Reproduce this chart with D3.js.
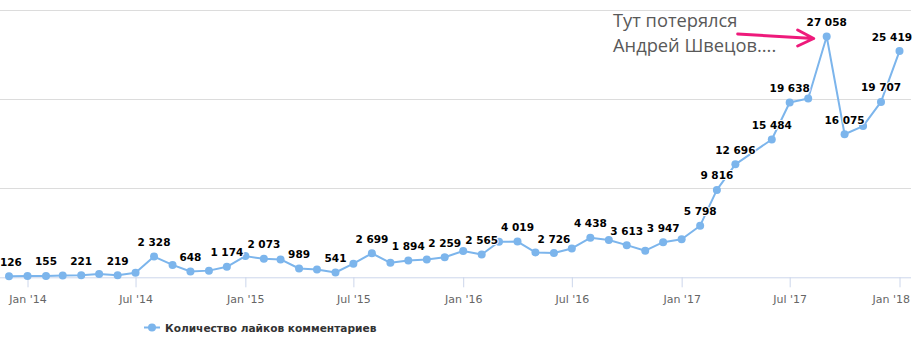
<!DOCTYPE html>
<html>
<head>
<meta charset="utf-8">
<script src="https://cdn.jsdelivr.net/npm/d3@7/dist/d3.min.js"></script>
<style>
  html, body { margin: 0; padding: 0; background: #fff; }
  svg { display: block; }
</style>
</head>
<body>
<svg id="chart" width="919" height="344"></svg>
<script>
// Monthly likes on comments (May 2017 has no record)
const months = [
  "2013-12",
  "2014-01","2014-02","2014-03","2014-04","2014-05","2014-06",
  "2014-07","2014-08","2014-09","2014-10","2014-11","2014-12",
  "2015-01","2015-02","2015-03","2015-04","2015-05","2015-06",
  "2015-07","2015-08","2015-09","2015-10","2015-11","2015-12",
  "2016-01","2016-02","2016-03","2016-04","2016-05","2016-06",
  "2016-07","2016-08","2016-09","2016-10","2016-11","2016-12",
  "2017-01","2017-02","2017-03","2017-04","2017-06",
  "2017-07","2017-08","2017-09","2017-10","2017-11","2017-12",
  "2018-01"
];
const likes = [
  126,
  160, 155, 200, 221, 370, 219,
  520, 2328, 1390, 648, 750, 1174,
  2380, 2073, 2010, 989, 880, 541,
  1530, 2699, 1630, 1894, 2000, 2259,
  2950, 2565, 3990, 4019, 2800, 2726,
  3240, 4438, 4190, 3613, 2990, 3947,
  4270, 5798, 9816, 12696, 15484,
  19638, 20090, 27058, 16075, 16990, 19707,
  25419
];
const tickMonths = ["2014-01","2014-07","2015-01","2015-07","2016-01","2016-07","2017-01","2017-07","2018-01"];
const tickLabels = ["Jan '14","Jul '14","Jan '15","Jul '15","Jan '16","Jul '16","Jan '17","Jul '17","Jan '18"];
const gridValues = [10000, 20000, 30000];
const seriesName = "Количество лайков комментариев";
const noteLines = ["Тут потерялся", "Андрей Швецов...."];

const parseMonth = d3.utcParse("%Y-%m");
const data = months.map((m, i) => ({ date: parseMonth(m), value: likes[i] }));

const svg = d3.select("#chart");
const plotLeft = 0, plotRight = 911, plotTop = 10.3, plotBottom = 277.3;
const color = "#7cb5ec";

const x = d3.scaleUtc()
  .domain(d3.extent(data, d => d.date))
  .range([9, 899.5]);
const y = d3.scaleLinear()
  .domain([0, 30000])
  .range([plotBottom, plotTop]);

const fmt = d3.formatLocale({ decimal: ",", thousands: " ", grouping: [3], currency: ["", ""] }).format(",d");

// horizontal grid lines
const grid = svg.append("g")
  .call(d3.axisRight(y).tickValues(gridValues).tickSize(plotRight - plotLeft).tickFormat(""))
  .attr("transform", `translate(${plotLeft},0)`);
grid.select(".domain").remove();
grid.selectAll(".tick line").attr("stroke", "#dcdcdc").attr("shape-rendering", "crispEdges");

// x axis
const xAxis = svg.append("g")
  .attr("transform", `translate(0,${plotBottom})`)
  .call(d3.axisBottom(x)
    .tickValues(tickMonths.map(parseMonth))
    .tickFormat((d, i) => tickLabels[i])
    .tickSize(10)
    .tickPadding(8));
xAxis.select(".domain")
  .attr("d", `M${plotLeft},0.5H${plotRight}`)
  .attr("stroke", "#ccd6eb");
xAxis.selectAll(".tick line").attr("stroke", "#ccd6eb");
xAxis.selectAll(".tick text")
  .attr("fill", "#666")
  .style("font", "11px 'DejaVu Sans', sans-serif")
  .attr("dy", "0.71em")
  .each(function () {
    // keep end labels inside the chart
    const b = this.getBBox();
    const tx = +this.parentNode.getAttribute("transform").match(/translate\(([^,]+)/)[1];
    if (tx + b.x + b.width > 910) d3.select(this).attr("x", 910 - (tx + b.x + b.width));
  });

// series line + markers
svg.append("path")
  .datum(data)
  .attr("fill", "none")
  .attr("stroke", color)
  .attr("stroke-width", 2)
  .attr("stroke-linejoin", "round")
  .attr("d", d3.line().x(d => x(d.date)).y(d => y(d.value)));

svg.append("g").selectAll("circle")
  .data(data)
  .join("circle")
  .attr("cx", d => x(d.date))
  .attr("cy", d => y(d.value))
  .attr("r", 4)
  .attr("fill", color);

// data labels, hiding those that collide with an already placed label
const labelLayer = svg.append("g");
const placed = [];
data.forEach(d => {
  const t = labelLayer.append("text")
    .attr("x", x(d.date))
    .attr("y", y(d.value) - 10.5)
    .attr("text-anchor", "middle")
    .attr("fill", "#000")
    .attr("stroke", "#fff")
    .attr("stroke-width", 2)
    .attr("stroke-linejoin", "round")
    .attr("paint-order", "stroke")
    .style("font", "bold 10.5px 'DejaVu Sans', sans-serif")
    .text(fmt(d.value));
  let b = t.node().getBBox();
  let shift = 0;
  if (b.x < plotLeft) shift = plotLeft - b.x;
  if (b.x + b.width > 912) shift = 912 - (b.x + b.width);
  if (shift) t.attr("x", x(d.date) + shift);
  const box = { x0: b.x + shift - 1, x1: b.x + shift + b.width + 1, y0: y(d.value) - 10.5 - 12, y1: y(d.value) - 10.5 + 6 };
  const hit = placed.some(p => box.x0 < p.x1 && box.x1 > p.x0 && box.y0 < p.y1 && box.y1 > p.y0);
  if (hit) t.remove(); else placed.push(box);
});

// legend
const legend = svg.append("g");
legend.append("line")
  .attr("x1", 144).attr("x2", 160).attr("y1", 327.5).attr("y2", 327.5)
  .attr("stroke", color).attr("stroke-width", 2);
legend.append("circle").attr("cx", 152).attr("cy", 327.5).attr("r", 4).attr("fill", color);
legend.append("text")
  .attr("x", 165).attr("y", 332)
  .attr("fill", "#333")
  .style("font", "bold 10.6px 'DejaVu Sans', sans-serif")
  .text(seriesName);

// annotation pointing at the peak month
const peak = data.reduce((a, b) => (b.value > a.value ? b : a));
const tipX = x(peak.date) - 13, tipY = y(peak.value) + 2;
const note = svg.append("g");
note.selectAll("text")
  .data(noteLines)
  .join("text")
  .attr("x", 613)
  .attr("y", (d, i) => 26.5 + i * 25)
  .attr("fill", "#595959")
  .style("font", "18.3px 'Open Sans', sans-serif")
  .text(d => d);
note.append("path")
  .attr("d", `M${tipX - 76},${tipY - 4.5}L${tipX},${tipY}M${tipX - 16},${tipY - 8.5}L${tipX},${tipY}L${tipX - 16},${tipY + 7.5}`)
  .attr("fill", "none")
  .attr("stroke", "#ee1a7b")
  .attr("stroke-width", 3)
  .attr("stroke-linecap", "round")
  .attr("stroke-linejoin", "round");
</script>
</body>
</html>
